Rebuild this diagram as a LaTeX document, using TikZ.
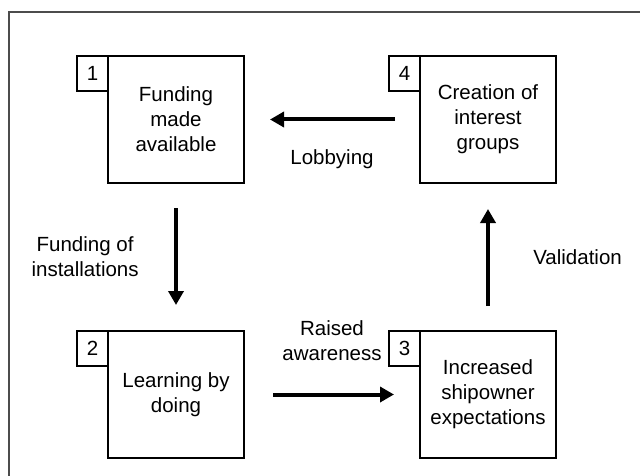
\documentclass[tikz,border=0pt]{standalone}
\usepackage{fontspec}
\setmainfont{Liberation Sans}
\usetikzlibrary{arrows.meta}
\usetikzlibrary{positioning}

\tikzset{
  stage/.style={draw, line width=2pt, outer sep=0pt, inner sep=0pt,
    minimum width=136pt, minimum height=127pt, align=center},
  stagenum/.style={draw, line width=2pt, outer sep=0pt, inner sep=0pt,
    minimum width=31pt, minimum height=35pt, anchor=north east},
  flow/.style={line width=4pt, ->, shorten <=25pt, shorten >=26pt},
}

\begin{document}
\begin{tikzpicture}[x=1pt, y=-1pt, >={Triangle[length=14pt,width=15pt]},
    font=\fontsize{20.5}{25}\selectfont]

  \useasboundingbox (0,0) rectangle (640,476);

%%%%%%%%%%%% Frame
  \draw[line width=1.3pt, black!70] (9,476) -- (9,12) -- (640,12);

%%%%%%%%%%%% Stages
  \node[stage] (b1) at (176,119.5) {Funding\\made\\available};
  \node[stage, right=176pt of b1] (b4) {Creation of\\interest\\groups};
  \node[stage, below=148pt of b1] (b2) {Learning by\\doing};
  \node[stage, right=176pt of b2] (b3) {Increased\\shipowner\\expectations};

  \node[stagenum] (n1) at (b1.north west) {1};
  \node[stagenum] (n2) at (b2.north west) {2};
  \node[stagenum] (n3) at (b3.north west) {3};
  \node[stagenum] (n4) at (b4.north west) {4};

%%%%%%%%%%%% Cycle
  \draw[flow] (b4) -- node[below=25pt] {Lobbying} (b1);
  \draw[flow] (b1) -- node[left=32pt, align=center] {Funding of\\installations} (b2);
  \draw[flow, shorten <=29pt] (b2) -- node[above=28pt, align=center] {Raised\\awareness} (b3);
  \draw[flow] (b3) -- node[right=40pt] {Validation} (b4);

\end{tikzpicture}
\end{document}
